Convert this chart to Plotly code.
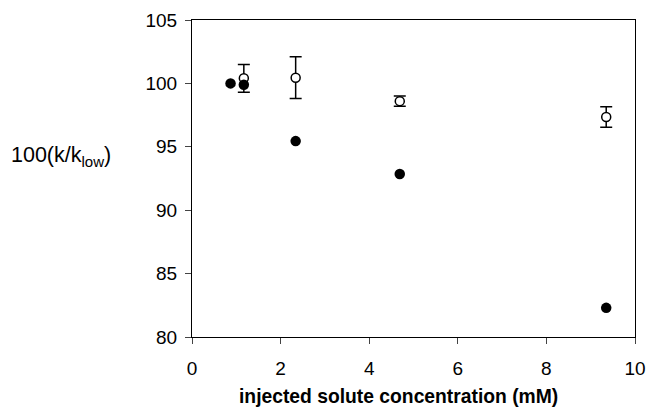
import plotly.graph_objects as go

# data
conc_filled = [0.87, 1.17, 2.34, 4.69, 9.35]
val_filled = [100.0, 99.9, 95.45, 92.85, 82.3]

conc_open = [1.17, 2.34, 4.69, 9.35]
val_open = [100.4, 100.45, 98.6, 97.35]
err_open = [1.1, 1.65, 0.4, 0.8]

x_ticks = [0, 2, 4, 6, 8, 10]
y_ticks = [80, 85, 90, 95, 100, 105]

fig = go.Figure()
fig.add_trace(go.Scatter(
    x=conc_open, y=val_open, mode="markers",
    error_y=dict(type="data", array=err_open, visible=True, color="black", thickness=1.5, width=6),
    marker=dict(symbol="circle", size=9, color="white", line=dict(color="black", width=1.5)),
    showlegend=False,
))
fig.add_trace(go.Scatter(
    x=conc_filled, y=val_filled, mode="markers",
    marker=dict(symbol="circle", size=10.5, color="black"),
    showlegend=False,
))

font_family = "Liberation Sans, Arial, sans-serif"
fig.update_layout(
    width=646, height=407,
    margin=dict(l=192, r=11, t=20, b=70),
    paper_bgcolor="white", plot_bgcolor="white",
    font=dict(family=font_family, color="black", size=19),
    xaxis=dict(range=[0, 10], tickvals=x_ticks, ticks="outside", ticklen=6, tickwidth=1,
               showline=True, linecolor="black", linewidth=1, mirror=True, showgrid=False,
               zeroline=False, tickfont=dict(size=19), automargin=False, ticklabelstandoff=8),
    yaxis=dict(range=[80, 105], tickvals=y_ticks, ticks="outside", ticklen=6, tickwidth=1,
               showline=True, linecolor="black", linewidth=1, mirror=True, showgrid=False,
               zeroline=False, tickfont=dict(size=19), automargin=False, ticklabelstandoff=4),
    annotations=[
        dict(text="100(k/k<sub>low</sub>)", xref="paper", yref="paper",
             x=-0.296, y=0.568, showarrow=False, font=dict(size=21.5),
             xanchor="center", yanchor="middle"),
        dict(text="<b>injected solute concentration (mM)</b>", xref="paper", yref="paper",
             x=0.467, y=-0.187, showarrow=False, font=dict(size=19.3),
             xanchor="center", yanchor="middle"),
    ],
)

fig.write_html("out.html")
